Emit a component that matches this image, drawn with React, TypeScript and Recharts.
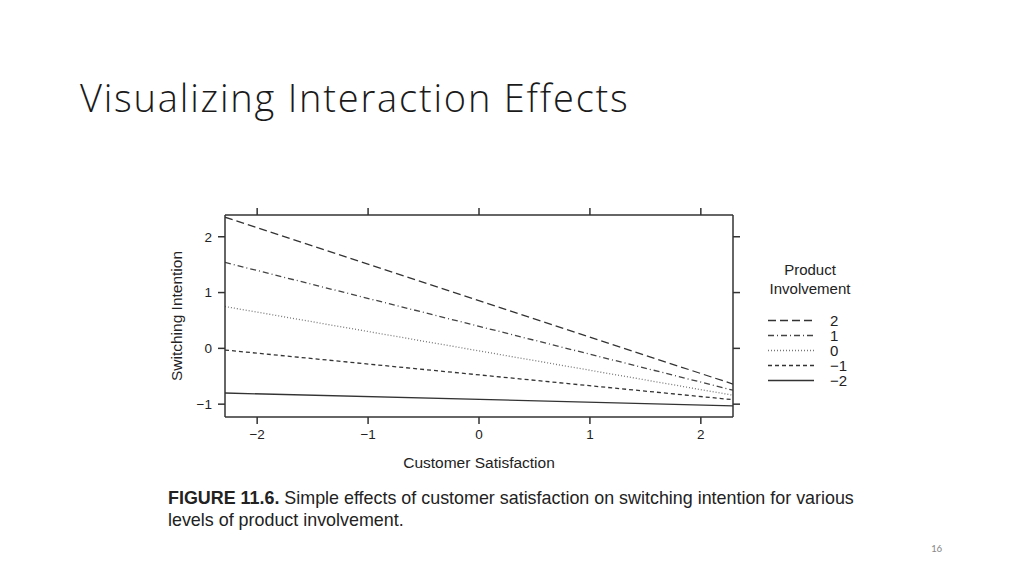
import { CartesianGrid, Legend, Line, LineChart, XAxis, YAxis } from "recharts";

// customer satisfaction at the left and right edge of the plot
const satisfaction = [-2.29, 2.29];
// switching intention for each level of product involvement
const involvement2 = [2.35, -0.64];
const involvement1 = [1.54, -0.75];
const involvement0 = [0.75, -0.84];
const involvementM1 = [-0.03, -0.92];
const involvementM2 = [-0.8, -1.03];

const xTicks = [-2, -1, 0, 1, 2];
const yTicks = [-1, 0, 1, 2];
const levelLabels = ["2", "1", "0", "\u22121", "\u22122"];

const data = satisfaction.map((x, i) => ({
  x,
  pi2: involvement2[i],
  pi1: involvement1[i],
  pi0: involvement0[i],
  pim1: involvementM1[i],
  pim2: involvementM2[i],
}));

const ink = "#222";
const figFont = "'Liberation Sans', Arial, sans-serif";
const minus = (v: number) => String(v).replace("-", "\u2212");
const noLabel = () => <g />;

function LegendBox({ payload }: any) {
  const items = [...(payload || [])].sort(
    (a: any, b: any) => levelLabels.indexOf(a.value) - levelLabels.indexOf(b.value)
  );
  return (
    <div style={{ fontFamily: figFont, fontSize: 15, color: ink, width: 110 }}>
      <div style={{ textAlign: "center", lineHeight: "19px", width: 84 }}>
        Product
        <br />
        Involvement
      </div>
      <div style={{ marginTop: 15 }}>
        {items.map((p: any) => (
          <div key={p.value} style={{ display: "flex", alignItems: "center", height: 15 }}>
            <svg width={46} height={15}>
              <line
                x1={0}
                x2={46}
                y1={7.5}
                y2={7.5}
                stroke={p.color}
                strokeWidth={1.3}
                strokeDasharray={p.payload?.strokeDasharray}
              />
            </svg>
            <span style={{ marginLeft: 16, lineHeight: "15px" }}>{p.value}</span>
          </div>
        ))}
      </div>
    </div>
  );
}

export default function App() {
  const lineProps = { type: "linear" as const, dot: false, isAnimationActive: false, strokeWidth: 1.3, xAxisId: "b", yAxisId: "l" };
  return (
    <div style={{ position: "absolute", left: 0, top: 0, width: 1024, height: 576, background: "#fff", overflow: "hidden" }}>
      <div
        style={{
          position: "absolute",
          left: 80,
          top: 77,
          fontFamily: "'Open Sans', Lato, sans-serif",
          fontWeight: 300,
          fontSize: 38,
          letterSpacing: 1.8,
          lineHeight: "40px",
          color: "#1a1a1a",
          whiteSpace: "nowrap",
        }}
      >
        Visualizing Interaction Effects
      </div>

      <LineChart
        width={1024}
        height={576}
        data={data}
        margin={{ top: 208, left: 167, right: 284, bottom: 109 }}
        style={{ position: "absolute", left: 0, top: 0, fontFamily: figFont }}
      >
        <CartesianGrid stroke="none" />
        <XAxis
          xAxisId="b"
          dataKey="x"
          type="number"
          domain={[-2.29, 2.29]}
          ticks={xTicks}
          allowDataOverflow
          height={50}
          tickSize={7}
          tickMargin={5}
          tickFormatter={minus}
          tick={{ fill: ink, fontSize: 13.5 }}
          stroke="#333"
          strokeWidth={1.5}
          label={({ viewBox }: any) => (
            <text x={viewBox.x + viewBox.width / 2} y={viewBox.y + 51} textAnchor="middle" fontSize={15.5} fill={ink}>
              Customer Satisfaction
            </text>
          )}
        />
        <XAxis
          xAxisId="t"
          orientation="top"
          dataKey="x"
          type="number"
          domain={[-2.29, 2.29]}
          ticks={xTicks}
          allowDataOverflow
          height={7}
          tickSize={7}
          tick={noLabel}
          stroke="#333"
          strokeWidth={1.5}
        />
        <YAxis
          yAxisId="l"
          type="number"
          domain={[-1.23, 2.39]}
          ticks={yTicks}
          allowDataOverflow
          width={58}
          tickSize={7}
          tickMargin={6}
          tickFormatter={minus}
          tick={{ fill: ink, fontSize: 13.5 }}
          stroke="#333"
          strokeWidth={1.5}
          label={({ viewBox }: any) => {
            const cx = viewBox.x + 9;
            const cy = viewBox.y + viewBox.height / 2;
            return (
              <text x={cx} y={cy} transform={`rotate(-90 ${cx} ${cy})`} textAnchor="middle" dominantBaseline="central" fontSize={15.5} fill={ink}>
                Switching Intention
              </text>
            );
          }}
        />
        <YAxis
          yAxisId="r"
          orientation="right"
          type="number"
          domain={[-1.23, 2.39]}
          ticks={yTicks}
          allowDataOverflow
          width={7}
          tickSize={7}
          tick={noLabel}
          stroke="#333"
          strokeWidth={1.5}
        />
        <Legend
          layout="vertical"
          align="center"
          verticalAlign="middle"
          content={<LegendBox />}
          wrapperStyle={{ left: 768, top: 260, width: 110 }}
        />
        <Line {...lineProps} dataKey="pi2" name={levelLabels[0]} stroke="#333" strokeDasharray="8 4" />
        <Line {...lineProps} dataKey="pi1" name={levelLabels[1]} stroke="#444" strokeDasharray="6 3 1 3" />
        <Line {...lineProps} dataKey="pi0" name={levelLabels[2]} stroke="#777" strokeDasharray="1 2" />
        <Line {...lineProps} dataKey="pim1" name={levelLabels[3]} stroke="#333" strokeDasharray="4 3" />
        <Line {...lineProps} dataKey="pim2" name={levelLabels[4]} stroke="#333" />
      </LineChart>

      <div
        style={{
          position: "absolute",
          left: 168,
          top: 487,
          width: 720,
          fontFamily: figFont,
          fontSize: 17.9,
          lineHeight: "22px",
          color: ink,
          whiteSpace: "nowrap",
        }}
      >
        <b>FIGURE 11.6.</b> Simple effects of customer satisfaction on switching intention for various
        <br />
        levels of product involvement.
      </div>

      <div
        style={{
          position: "absolute",
          left: 931,
          top: 542,
          fontFamily: "Calibri, Carlito, 'Open Sans', sans-serif",
          fontSize: 11,
          color: "#8a8a8a",
        }}
      >
        16
      </div>
    </div>
  );
}
